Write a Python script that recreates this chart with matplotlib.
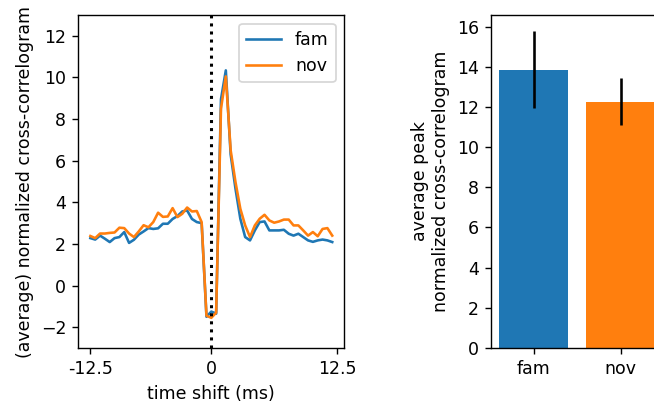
import numpy as np
import matplotlib.pyplot as plt

# средние нормированные кросс-коррелограммы, бины по 0.5 мс
fam = [2.28, 2.21, 2.40, 2.25, 2.09, 2.28, 2.33, 2.57, 2.05, 2.20,
       2.45, 2.60, 2.76, 2.72, 2.75, 2.97, 2.97, 3.20, 3.34, 3.56,
       3.61, 3.20, 3.05, 3.00, -1.50, -1.25, -1.35, 8.95, 10.34, 6.30,
       4.65, 3.21, 2.33, 2.17, 2.65, 3.05, 3.08, 2.65, 2.65, 2.65,
       2.68, 2.49, 2.40, 2.49, 2.33, 2.17, 2.10, 2.17, 2.21, 2.17,
       2.09]
nov = [2.38, 2.28, 2.50, 2.50, 2.53, 2.55, 2.78, 2.76, 2.50, 2.33,
       2.60, 2.90, 2.80, 3.05, 3.50, 3.30, 3.32, 3.72, 3.29, 3.45,
       3.75, 3.56, 3.58, 3.05, -1.45, -1.55, -1.30, 8.50, 10.05, 6.50,
       4.97, 3.69, 2.89, 2.33, 2.89, 3.21, 3.40, 3.13, 3.02, 3.08,
       3.17, 3.17, 2.89, 2.89, 2.65, 2.40, 2.57, 2.37, 2.72, 2.76,
       2.40]
xtick_pos = [0, 25, 51]
xtick_labels = ['-12.5', '0', '12.5']

# средние пики и ошибки
groups = ['fam', 'nov']
peak_mean = [13.86, 12.26]
peak_err = [1.93, 1.18]

fig = plt.figure(figsize=(5.232, 3.248), dpi=125)

ax1 = fig.add_axes([0.1197, 0.1429, 0.4068, 0.8201])
x = np.arange(len(fam))
ax1.plot(x, fam, label='fam')
ax1.plot(x, nov, label='nov')
ax1.axvline(25, color='k', linestyle=':', linewidth=1.75)
ax1.set_xticks(xtick_pos)
ax1.set_xticklabels(xtick_labels)
ax1.set_ylim(-3, 13)
ax1.set_xlabel('time shift (ms)')
ax1.set_ylabel('(average) normalized cross-correlogram')
ax1.legend(loc='upper right')

ax2 = fig.add_axes([0.7508, 0.1429, 0.2634, 0.8201])
ax2.bar(groups, peak_mean, yerr=peak_err, color=['C0', 'C1'],
        error_kw=dict(ecolor='k'))
ax2.set_ylabel('average peak\nnormalized cross-correlogram')

fig.savefig('out.png', dpi=125)
